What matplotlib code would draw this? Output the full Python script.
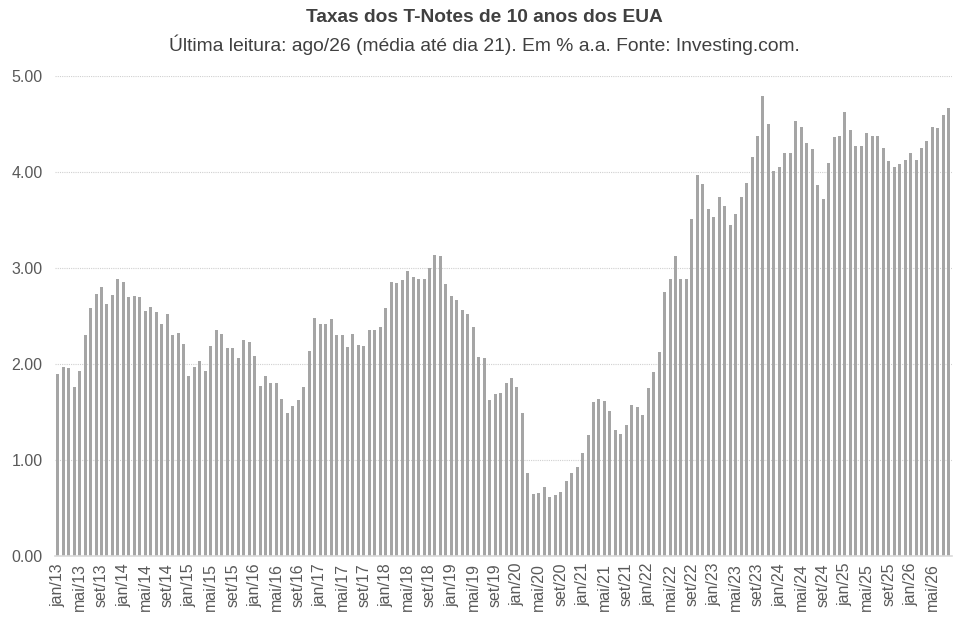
import matplotlib
matplotlib.use("Agg")
import matplotlib.pyplot as plt

plt.rcParams['font.family'] = ['Liberation Sans', 'DejaVu Sans']

# month abbreviations used on the x axis
months = ['jan', 'fev', 'mar', 'abr', 'mai', 'jun', 'jul', 'ago', 'set', 'out', 'nov', 'dez']
years = ['13', '14', '15', '16', '17', '18', '19', '20', '21', '22', '23', '24', '25', '26']

# monthly average yield, % a.a. (jan/13 .. ago/26)
y2013 = [1.90, 1.97, 1.96, 1.76, 1.93, 2.30, 2.58, 2.73, 2.80, 2.62, 2.72, 2.89]
y2014 = [2.85, 2.70, 2.71, 2.70, 2.55, 2.59, 2.54, 2.42, 2.52, 2.30, 2.32, 2.21]
y2015 = [1.88, 1.97, 2.03, 1.93, 2.19, 2.35, 2.31, 2.17, 2.17, 2.06, 2.25, 2.23]
y2016 = [2.08, 1.77, 1.88, 1.80, 1.80, 1.64, 1.49, 1.56, 1.63, 1.76, 2.14, 2.48]
y2017 = [2.42, 2.42, 2.47, 2.30, 2.30, 2.18, 2.31, 2.20, 2.19, 2.35, 2.35, 2.39]
y2018 = [2.58, 2.85, 2.84, 2.87, 2.97, 2.91, 2.89, 2.89, 3.00, 3.14, 3.12, 2.83]
y2019 = [2.71, 2.67, 2.56, 2.52, 2.39, 2.07, 2.06, 1.63, 1.69, 1.70, 1.80, 1.85]
y2020 = [1.76, 1.49, 0.86, 0.65, 0.66, 0.72, 0.61, 0.64, 0.67, 0.78, 0.86, 0.93]
y2021 = [1.07, 1.26, 1.60, 1.64, 1.61, 1.51, 1.31, 1.27, 1.36, 1.57, 1.55, 1.47]
y2022 = [1.75, 1.92, 2.13, 2.75, 2.89, 3.13, 2.89, 2.89, 3.51, 3.97, 3.88, 3.61]
y2023 = [3.53, 3.74, 3.65, 3.45, 3.56, 3.74, 3.89, 4.16, 4.37, 4.79, 4.50, 4.01]
y2024 = [4.05, 4.20, 4.20, 4.53, 4.47, 4.30, 4.24, 3.86, 3.72, 4.09, 4.36, 4.38]
y2025 = [4.62, 4.44, 4.27, 4.27, 4.41, 4.37, 4.38, 4.25, 4.11, 4.05, 4.08, 4.13]
y2026 = [4.20, 4.13, 4.25, 4.32, 4.47, 4.46, 4.59, 4.67]

yields = (y2013 + y2014 + y2015 + y2016 + y2017 + y2018 + y2019 + y2020
          + y2021 + y2022 + y2023 + y2024 + y2025 + y2026)
labels = [f"{m}/{y}" for y in years for m in months][:len(yields)]

yticks = [0, 1, 2, 3, 4, 5]

fig = plt.figure(figsize=(9.69, 6.25), dpi=100)
ax = fig.add_axes([0.0568, 0.1104, 0.9252, 0.768])

x = list(range(len(yields)))
ax.bar(x, yields, width=0.55, color='#A5A5A5', zorder=3)

ax.set_xlim(-0.5, len(yields) - 0.5)
ax.set_ylim(0, 5)
ax.set_yticks(yticks)
ax.set_yticklabels([f"{v:.2f}" for v in yticks], fontsize=11.5, color='#595959')
ax.set_xticks(x[::4])
ax.set_xticklabels(labels[::4], rotation=90, fontsize=11.5, color='#595959')
ax.tick_params(axis='both', length=0)
ax.tick_params(axis='y', pad=9)
ax.tick_params(axis='x', pad=5)

ax.grid(True, axis='y', linestyle=(0, (1, 1)), color='#D0D0D0', linewidth=0.8, zorder=0)
for side in ['top', 'right', 'left']:
    ax.spines[side].set_visible(False)
ax.spines['bottom'].set_color('#D9D9D9')
ax.spines['bottom'].set_linewidth(1.2)
ax.spines['bottom'].set_zorder(4)

fig.text(0.5, 1 - 18 / 625, "Taxas dos T-Notes de 10 anos dos EUA", ha='center', va='center',
         fontsize=13.8, fontweight='bold', color='#404040')
fig.text(0.5, 1 - 45 / 625,
         "Última leitura: ago/26 (média até dia 21). Em % a.a. Fonte: Investing.com.",
         ha='center', va='center', fontsize=13.9, color='#404040')

fig.savefig('out.png', dpi=100)
